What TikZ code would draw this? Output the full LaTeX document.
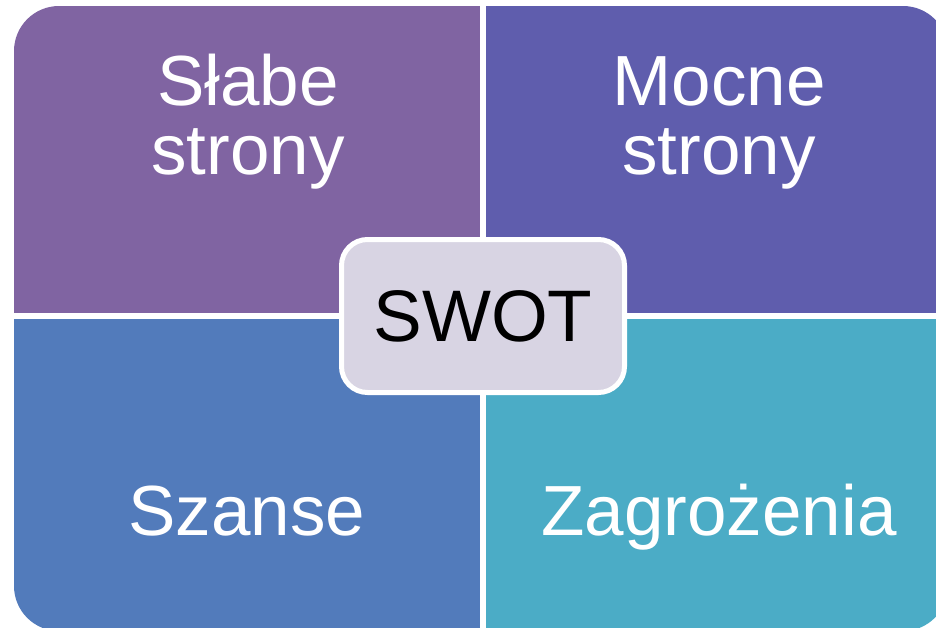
\documentclass[tikz,border=0pt]{standalone}
\usepackage{fontspec}
\setmainfont{Liberation Sans}
\usetikzlibrary{positioning}

\definecolor{weakc}{HTML}{8064A2}
\definecolor{strongc}{HTML}{5F5DAD}
\definecolor{chancec}{HTML}{527BBB}
\definecolor{threatc}{HTML}{4BACC6}
\definecolor{swotc}{HTML}{D8D4E3}

\tikzset{
	quadtext/.style={text=white, align=center, anchor=base, font=\fontsize{71}{69}\selectfont},
	swotbox/.style={draw=white, line width=5pt, fill=swotc, rounded corners=26pt,
		minimum width=283pt, minimum height=153pt, font=\fontsize{73}{80}\selectfont}
}

\begin{document}
\begin{tikzpicture}[x=1pt,y=-1pt]
		\useasboundingbox (0,0) rectangle (936,627);
		
		% four fields
		\begin{scope}
			\clip[rounded corners=45pt] (14,6) rectangle (948,631);
			\fill[weakc] (14,6) rectangle (483,316);
			\fill[strongc] (483,6) rectangle (948,316);
			\fill[chancec] (14,316) rectangle (483,631);
			\fill[threatc] (483,316) rectangle (948,631);
		\end{scope}
		\draw[white, line width=6pt] (483,0) -- (483,640);
		\draw[white, line width=6pt] (0,316) -- (950,316);
		
		% labels
		\node[quadtext] (weak) at (248,174) {Słabe\\strony};
		\node[quadtext] (strong) at (719,174) {Mocne\\strony};
		\node[quadtext] (chance) at (247,535) {Szanse};
		\node[quadtext] (threat) at (719,535) {Zagrożenia};
		
		% centre
		\node[swotbox] (swot) at (483,316) {SWOT};
	\end{tikzpicture}
\end{document}
